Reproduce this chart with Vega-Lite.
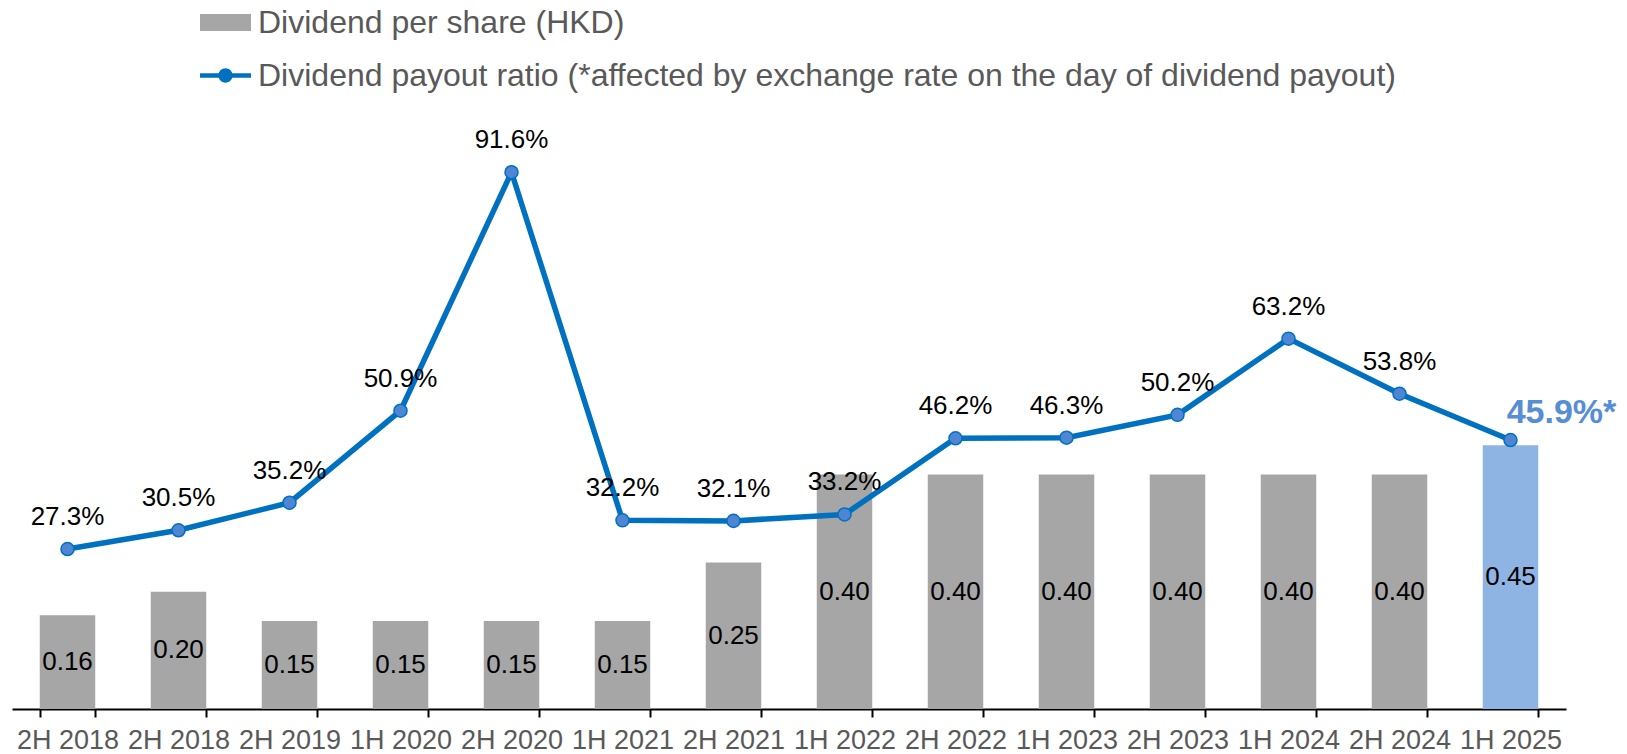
{
  "$schema": "https://vega.github.io/schema/vega-lite/v6.json",
  "width": 1554,
  "height": 586,
  "autosize": {"type": "none"},
  "padding": {"left": 12, "top": 123, "right": 61, "bottom": 45},
  "background": "white",
  "config": {"view": {"stroke": null}, "font": "Liberation Sans"},
  "data": {
    "values": [
      {"k": "1|2H 2018", "dps": 0.16, "ratio": 0.273, "lbl": "27.3%", "series": "Dividend per share (HKD)"},
      {"k": "2|2H 2018", "dps": 0.20, "ratio": 0.305, "lbl": "30.5%", "series": "Dividend per share (HKD)"},
      {"k": "3|2H 2019", "dps": 0.15, "ratio": 0.352, "lbl": "35.2%", "series": "Dividend per share (HKD)"},
      {"k": "4|1H 2020", "dps": 0.15, "ratio": 0.509, "lbl": "50.9%", "series": "Dividend per share (HKD)"},
      {"k": "5|2H 2020", "dps": 0.15, "ratio": 0.916, "lbl": "91.6%", "series": "Dividend per share (HKD)"},
      {"k": "6|1H 2021", "dps": 0.15, "ratio": 0.322, "lbl": "32.2%", "series": "Dividend per share (HKD)"},
      {"k": "7|2H 2021", "dps": 0.25, "ratio": 0.321, "lbl": "32.1%", "series": "Dividend per share (HKD)"},
      {"k": "8|1H 2022", "dps": 0.40, "ratio": 0.332, "lbl": "33.2%", "series": "Dividend per share (HKD)"},
      {"k": "9|2H 2022", "dps": 0.40, "ratio": 0.462, "lbl": "46.2%", "series": "Dividend per share (HKD)"},
      {"k": "10|1H 2023", "dps": 0.40, "ratio": 0.463, "lbl": "46.3%", "series": "Dividend per share (HKD)"},
      {"k": "11|2H 2023", "dps": 0.40, "ratio": 0.502, "lbl": "50.2%", "series": "Dividend per share (HKD)"},
      {"k": "12|1H 2024", "dps": 0.40, "ratio": 0.632, "lbl": "63.2%", "series": "Dividend per share (HKD)"},
      {"k": "13|2H 2024", "dps": 0.40, "ratio": 0.538, "lbl": "53.8%", "series": "Dividend per share (HKD)"},
      {"k": "14|1H 2025", "dps": 0.45, "ratio": 0.459, "lbl": "45.9%*", "series": "DPS 1H 2025"}
    ]
  },
  "encoding": {
    "x": {
      "field": "k",
      "type": "nominal",
      "sort": null,
      "scale": {"paddingInner": 0.5, "paddingOuter": 0.25},
      "axis": {
        "title": null,
        "labelExpr": "split(datum.label,'|')[1]",
        "labelAngle": 0,
        "labelFontSize": 27,
        "labelColor": "#595959",
        "labelFont": "Liberation Sans",
        "domainColor": "#000000",
        "domainWidth": 2,
        "tickColor": "#000000",
        "tickWidth": 2,
        "tickSize": 8,
        "tickBand": "extent",
        "labelPadding": 10,
        "grid": false,
        "labelLimit": 300
      }
    }
  },
  "layer": [
    {
      "mark": {"type": "bar"},
      "encoding": {
        "y": {"field": "dps", "type": "quantitative", "scale": {"domain": [0, 1]}, "axis": null},
        "fill": {
          "field": "series",
          "type": "nominal",
          "scale": {"domain": ["Dividend per share (HKD)", "DPS 1H 2025"], "range": ["#A6A6A6", "#8EB4E3"]},
          "legend": {
            "orient": "none",
            "legendX": 188,
            "legendY": -126,
            "title": null,
            "values": ["Dividend per share (HKD)"],
            "symbolType": "M-1,-0.333H1V0.333H-1Z",
            "symbolSize": 2601,
            "symbolStrokeWidth": 0,
            "labelFontSize": 32,
            "labelColor": "#595959",
            "labelFont": "Liberation Sans",
            "labelOffset": 7,
            "labelLimit": 2000,
            "padding": 0
          }
        }
      }
    },
    {
      "mark": {"type": "text", "fontSize": 26, "color": "#000000", "baseline": "middle"},
      "encoding": {
        "y": {"field": "dps", "type": "quantitative", "scale": {"domain": [0, 2]}, "axis": null},
        "text": {"field": "dps", "type": "quantitative", "format": ".2f"}
      }
    },
    {
      "mark": {"type": "line", "strokeWidth": 5.5},
      "encoding": {
        "y": {"field": "ratio", "type": "quantitative", "scale": {"domain": [0, 1]}, "axis": null},
        "stroke": {
          "datum": "Dividend payout ratio (*affected by exchange rate on the day of dividend payout)",
          "type": "nominal",
          "scale": {"range": ["#0070C0"]},
          "legend": {
            "orient": "none",
            "legendX": 188,
            "legendY": -73,
            "title": null,
            "symbolType": "M-1,-0.09H1V0.09H-1ZM-0.28,0A0.28,0.28 0 1,1 0.28,0A0.28,0.28 0 1,1 -0.28,0Z",
            "symbolSize": 2601,
            "labelFontSize": 32,
            "labelColor": "#595959",
            "labelFont": "Liberation Sans",
            "labelOffset": 7,
            "labelLimit": 2000,
            "padding": 0,
            "encode": {
              "symbols": {
                "update": {
                  "fill": {"value": "#0070C0"},
                  "stroke": {"value": "#0070C0"},
                  "strokeWidth": {"value": 0},
                  "opacity": {"value": 1}
                }
              }
            }
          }
        }
      }
    },
    {
      "mark": {"type": "point", "filled": true, "fill": "#4F86D3", "stroke": "#0070C0", "strokeWidth": 1.5, "size": 170, "opacity": 1},
      "encoding": {
        "y": {"field": "ratio", "type": "quantitative", "scale": {"domain": [0, 1]}, "axis": null}
      }
    },
    {
      "transform": [{"filter": "datum.k != '14|1H 2025'"}],
      "mark": {"type": "text", "fontSize": 26, "color": "#000000", "baseline": "middle", "dy": -32},
      "encoding": {
        "y": {"field": "ratio", "type": "quantitative", "scale": {"domain": [0, 1]}, "axis": null},
        "text": {"field": "lbl", "type": "nominal"}
      }
    },
    {
      "transform": [{"filter": "datum.k == '14|1H 2025'"}],
      "mark": {"type": "text", "fontSize": 34, "fontWeight": "bold", "color": "#558ED5", "baseline": "middle", "dy": -27, "dx": 51},
      "encoding": {
        "y": {"field": "ratio", "type": "quantitative", "scale": {"domain": [0, 1]}, "axis": null},
        "text": {"field": "lbl", "type": "nominal"}
      }
    }
  ],
  "resolve": {"scale": {"y": "independent"}}
}
